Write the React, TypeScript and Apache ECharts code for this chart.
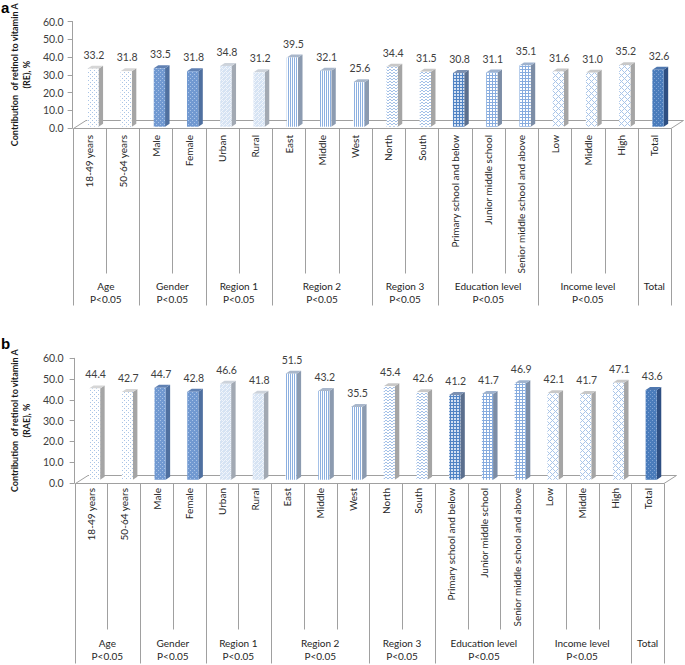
import React, { useEffect, useRef } from 'react';
import * as echarts from 'echarts';

// ---------- data ----------
const categories = [
  '18-49 years', '50-64 years', 'Male', 'Female', 'Urban', 'Rural', 'East', 'Middle', 'West',
  'North', 'South', 'Primary school and below', 'Junior middle school', 'Senior middle school and above',
  'Low', 'Middle', 'High', 'Total',
];
const groupNames = ['Age\nP<0.05', 'Gender\nP<0.05', 'Region 1\nP<0.05', 'Region 2\nP<0.05', 'Region 3\nP<0.05', 'Education level\nP<0.05', 'Income level\nP<0.05', 'Total'];
const groupSizes = [2, 2, 2, 3, 2, 3, 3, 1];
const valuesRE = [33.2, 31.8, 33.5, 31.8, 34.8, 31.2, 39.5, 32.1, 25.6, 34.4, 31.5, 30.8, 31.1, 35.1, 31.6, 31.0, 35.2, 32.6];
const valuesRAE = [44.4, 42.7, 44.7, 42.8, 46.6, 41.8, 51.5, 43.2, 35.5, 45.4, 42.6, 41.2, 41.7, 46.9, 42.1, 41.7, 47.1, 43.6];
const yMin = 0;
const yMax = 60;
const yStep = 10;
const panelLetters = ['a', 'b'];
const yTitles = ['Contribution  of retinol to vitamin A\n(RE), %', 'Contribution  of retinol to vitamin A\n(RAE), %'];

// ---------- styles ----------
const barPatternKeys = ['dotsWhite', 'dotsWhite', 'dotsBlue', 'dotsBlue', 'diag', 'diag', 'vstripe', 'vstripe', 'vstripe',
  'wave', 'wave', 'gridDark', 'gridLight', 'gridLight', 'lattice', 'lattice', 'lattice', 'totalDots'];
const faceColors: Record<string, { side: string; top: string }> = {
  dotsWhite: { side: '#a5a5a5', top: '#d6d6d6' },
  dotsBlue: { side: '#4f70a0', top: '#6081b3' },
  diag: { side: '#a2a9b3', top: '#cdd3db' },
  vstripe: { side: '#8c9bb0', top: '#a9b7cb' },
  wave: { side: '#a5a5a5', top: '#c8c8c8' },
  gridDark: { side: '#5b6f8e', top: '#7b90b1' },
  gridLight: { side: '#7c8da6', top: '#9eb2ce' },
  lattice: { side: '#a5a5a5', top: '#c8c8c8' },
  totalDots: { side: '#2e4f82', top: '#4e77af' },
};

const LAYOUT = [
  { top: 10, left: 57, width: 614, height: 118, barLift: 1.3, topLift: 0.3, labelMargin: 9, nameGap: 29, xLabelMargin: 7, shortLen: 145, longLen: 177, groupY: 152, letterY: 7 },
  { top: 358.3, left: 61, width: 603, height: 124.7, barLift: 3.3, topLift: 2.3, labelMargin: 11, nameGap: 33, xLabelMargin: 5, shortLen: 146, longLen: 180, groupY: 154, letterY: 343 },
];

const FONT = 'Lato, "Noto Sans", sans-serif';

function makeTile(w: number, h: number, bg: string, fg: string, test: (x: number, y: number) => boolean) {
  const c = document.createElement('canvas');
  c.width = w; c.height = h;
  const ctx = c.getContext('2d')!;
  ctx.fillStyle = bg;
  ctx.fillRect(0, 0, w, h);
  ctx.fillStyle = fg;
  for (let y = 0; y < h; y++) for (let x = 0; x < w; x++) if (test(x, y)) ctx.fillRect(x, y, 1, 1);
  return { image: c.toDataURL(), repeat: 'repeat', imageWidth: w, imageHeight: h };
}

function buildPatterns() {
  return {
    dotsWhite: makeTile(4, 4, '#ffffff', '#a9c4e6', (x, y) => (x === 0 && y === 0) || (x === 2 && y === 2)),
    dotsBlue: makeTile(4, 4, '#7199d1', '#a9c3e7', (x, y) => (x === 0 && y === 0) || (x === 2 && y === 2)),
    diag: makeTile(4, 4, '#d6e3f3', '#f1f5fb', (x, y) => (x + y) % 4 === 0 || (x === 2 && y === 0)),
    vstripe: makeTile(2, 1, '#ffffff', '#8db0e0', (x) => x === 0),
    wave: makeTile(4, 3, '#ffffff', '#a3c0e7', (x, y) => (y === 1 && (x === 0 || x === 3)) || (y === 0 && (x === 1 || x === 2))),
    gridDark: makeTile(3, 3, '#d3e0f2', '#5083c4', (x, y) => x === 0 || y === 0),
    gridLight: makeTile(3, 3, '#ffffff', '#87acdf', (x, y) => x === 0 || y === 0),
    lattice: makeTile(6, 6, '#ffffff', '#a9c5e9', (x, y) => (x + y) % 6 === 0 || (x - y + 6) % 6 === 0),
    totalDots: makeTile(4, 4, '#4a7cbb', '#7fa3d4', (x, y) => (x === 0 && y === 0) || (x === 2 && y === 2)),
  } as Record<string, any>;
}

const groupStartIndex: number[] = [];
const groupOfIndex: number[] = [];
{
  let k = 0;
  groupSizes.forEach((s, g) => {
    groupStartIndex.push(k);
    for (let j = 0; j < s; j++) groupOfIndex.push(g);
    k += s;
  });
}

export default function App() {
  const ref = useRef<HTMLDivElement>(null);
  useEffect(() => {
    if (!ref.current) return;
    const chart = echarts.init(ref.current, undefined, { renderer: 'svg' });
    const patterns = buildPatterns();
    const n = categories.length;
    const lineColor = '#a0a0a0';

    const grids: any[] = [];
    const xAxes: any[] = [];
    const yAxes: any[] = [];
    const series: any[] = [];
    const graphics: any[] = [];

    [valuesRE, valuesRAE].forEach((vals, k) => {
      const L = LAYOUT[k];
      grids.push({ left: L.left, top: L.top, width: L.width, height: L.height, containLabel: false });
      xAxes.push({
        type: 'category', gridIndex: k, data: categories, boundaryGap: true,
        axisLine: { show: false }, axisTick: { show: false }, splitLine: { show: false },
        axisLabel: { rotate: 90, interval: 0, margin: L.xLabelMargin, fontSize: 10, fontFamily: FONT, color: '#262626' },
      });
      yAxes.push({
        type: 'value', gridIndex: k, min: yMin, max: yMax, interval: yStep,
        axisLine: { show: true, lineStyle: { color: lineColor } },
        axisTick: { show: true, length: 5, lineStyle: { color: lineColor } },
        splitLine: { show: false },
        axisLabel: { margin: L.labelMargin, fontSize: 10.5, fontFamily: FONT, color: '#404040', formatter: (v: number) => v.toFixed(1) },
        name: yTitles[k], nameLocation: 'middle', nameRotate: 90, nameGap: L.nameGap,
        nameTextStyle: { fontWeight: 'bold', fontSize: 9, fontFamily: FONT, color: '#1a1a1a', lineHeight: 12 },
      });

      // table lines, group labels and floor
      series.push({
        type: 'custom', xAxisIndex: k, yAxisIndex: k, clip: false, z: 1, silent: true,
        data: categories.map((_, i) => [i, 0]),
        encode: { x: 0, y: 1 },
        renderItem: (params: any, api: any) => {
          const i = api.value(0) as number;
          const p0 = api.coord([i, 0]);
          const slot = api.size([1, 0])[0];
          const left = Math.round(p0[0] - slot / 2) + 0.5;
          const y0 = Math.round(p0[1]) + 0.5;
          const g = groupOfIndex[i];
          const isStart = groupStartIndex[g] === i;
          const children: any[] = [];
          children.push({ type: 'line', shape: { x1: left, y1: y0, x2: left, y2: y0 + (isStart ? L.longLen : L.shortLen) }, style: { stroke: lineColor, lineWidth: 1 } });
          if (i === n - 1) {
            const r = Math.round(p0[0] + slot / 2) + 0.5;
            children.push({ type: 'line', shape: { x1: r, y1: y0, x2: r, y2: y0 + L.longLen }, style: { stroke: lineColor, lineWidth: 1 } });
          }
          if (isStart) {
            const gw = groupSizes[g] * slot;
            children.push({ type: 'text', style: { text: groupNames[g], x: p0[0] - slot / 2 + gw / 2, y: p0[1] + L.groupY, align: 'center', verticalAlign: 'top', fontSize: 10, fontFamily: FONT, fill: '#262626', lineHeight: 12.5 } });
          }
          if (i === 0) {
            const right = p0[0] - slot / 2 + n * slot;
            children.push({ type: 'polygon', shape: { points: [[left, y0], [left + 12.5, y0 - 8], [right + 12.5, y0 - 8], [right, y0]] }, style: { fill: 'none', stroke: lineColor, lineWidth: 1 } });
          }
          return { type: 'group', children };
        },
      });

      // 3D bars
      series.push({
        type: 'custom', xAxisIndex: k, yAxisIndex: k, clip: false, z: 2, silent: true,
        data: vals.map((v, i) => [i, v]),
        encode: { x: 0, y: 1 },
        renderItem: (params: any, api: any) => {
          const i = api.value(0) as number;
          const v = api.value(1) as number;
          const p = api.coord([i, v]);
          const p0 = api.coord([i, 0]);
          const slot = api.size([1, 0])[0];
          const w = slot * 0.34;
          const x0 = p[0] - 2;
          const yb = p0[1] - L.barLift;
          const yt = p[1] - L.topLift;
          const dx = 4.5, dy = 3;
          const key = barPatternKeys[i];
          const fc = faceColors[key];
          return {
            type: 'group',
            children: [
              { type: 'polygon', shape: { points: [[x0 + w, yt], [x0 + w + dx, yt - dy], [x0 + w + dx, yb - dy], [x0 + w, yb]] }, style: { fill: fc.side } },
              { type: 'polygon', shape: { points: [[x0, yt], [x0 + dx, yt - dy], [x0 + w + dx, yt - dy], [x0 + w, yt]] }, style: { fill: fc.top } },
              { type: 'rect', shape: { x: x0, y: yt, width: w, height: yb - yt }, style: { fill: patterns[key] } },
              { type: 'text', style: { text: v.toFixed(1), x: x0 + w / 2 + 1, y: yt - 14, align: 'center', verticalAlign: 'middle', fontSize: 10.5, fontFamily: FONT, fill: '#404040' } },
            ],
          };
        },
      });

      graphics.push({ type: 'text', left: 1, top: L.letterY - 7, style: { text: panelLetters[k], fontSize: 15, fontWeight: 'bold', fontFamily: 'Arial, "Liberation Sans", sans-serif', fill: '#000' } });
    });

    chart.setOption({
      animation: false,
      backgroundColor: '#ffffff',
      grid: grids,
      xAxis: xAxes,
      yAxis: yAxes,
      series,
      graphic: graphics,
    });
    return () => chart.dispose();
  }, []);
  return <div ref={ref} style={{ position: 'absolute', left: 0, top: 0, width: 685, height: 665 }} />;
}
